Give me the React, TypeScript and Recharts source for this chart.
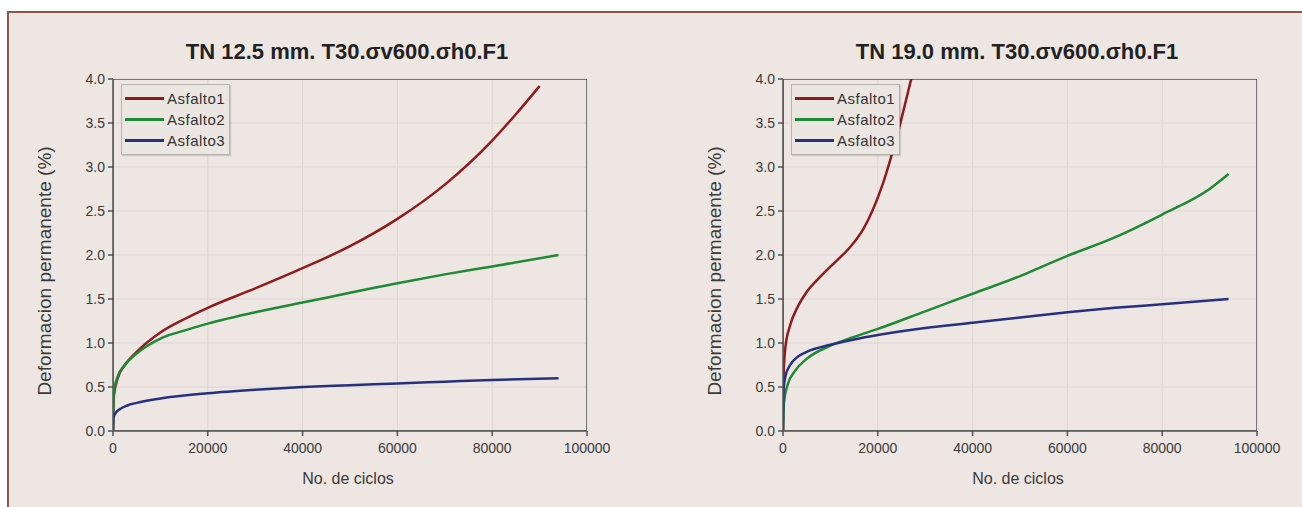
import React from 'react';
import { LineChart, Line, XAxis, YAxis, CartesianGrid, ReferenceArea, Legend } from 'recharts';

// TN 12.5 mm
const CICLOS_12_A1 = [0, 200, 1000, 2500, 5000, 10000, 15000, 20000, 30000, 40000, 50000, 60000, 70000, 80000, 85000, 90000];
const DEF_12_A1 = [0, 0.4, 0.6, 0.75, 0.9, 1.12, 1.27, 1.4, 1.62, 1.85, 2.1, 2.41, 2.8, 3.3, 3.6, 3.92];
const CICLOS_12_A2 = [0, 200, 1000, 2500, 5000, 10000, 15000, 20000, 30000, 40000, 50000, 60000, 70000, 80000, 94000];
const DEF_12_A2 = [0, 0.45, 0.62, 0.75, 0.88, 1.05, 1.14, 1.22, 1.35, 1.46, 1.57, 1.68, 1.78, 1.87, 2.0];
const CICLOS_12_A3 = [0, 100, 500, 1500, 3000, 5000, 10000, 20000, 30000, 40000, 50000, 60000, 70000, 80000, 94000];
const DEF_12_A3 = [0, 0.15, 0.2, 0.25, 0.29, 0.32, 0.37, 0.43, 0.47, 0.5, 0.52, 0.54, 0.56, 0.58, 0.6];

// TN 19.0 mm
const CICLOS_19_A1 = [0, 100, 500, 1500, 3000, 5000, 8000, 11000, 14000, 17000, 19000, 21000, 23000, 25000, 26500, 27500];
const DEF_19_A1 = [0, 0.6, 0.95, 1.2, 1.4, 1.58, 1.76, 1.92, 2.08, 2.3, 2.52, 2.8, 3.15, 3.55, 3.88, 4.1];
const CICLOS_19_A2 = [0, 200, 1000, 2500, 5000, 10000, 15000, 20000, 30000, 40000, 50000, 56000, 60000, 70000, 80000, 90000, 94000];
const DEF_19_A2 = [0, 0.32, 0.53, 0.68, 0.82, 0.97, 1.07, 1.16, 1.36, 1.56, 1.76, 1.9, 1.99, 2.2, 2.46, 2.75, 2.92];
const CICLOS_19_A3 = [0, 100, 500, 1500, 3000, 5000, 10000, 15000, 20000, 30000, 40000, 50000, 60000, 70000, 80000, 94000];
const DEF_19_A3 = [0, 0.45, 0.62, 0.75, 0.84, 0.9, 0.98, 1.04, 1.09, 1.17, 1.23, 1.29, 1.35, 1.4, 1.44, 1.5];

const SERIES_NAMES = ['Asfalto1', 'Asfalto2', 'Asfalto3'];
const SERIES_COLORS = ['#8e1c1f', '#1f8a34', '#27307f'];
const X_TICKS = [0, 20000, 40000, 60000, 80000, 100000];
const Y_TICKS = [0, 0.5, 1, 1.5, 2, 2.5, 3, 3.5, 4];

const FONT = '"Liberation Sans", Arial, sans-serif';
const TEXT_COLOR = '#3a3a3a';
const PANEL_BG = '#ede6e3';

const toPoints = (ciclos: number[], def: number[]) => ciclos.map((c, i) => ({ ciclos: c, def: def[i] }));

const LegendBox = () => (
    <div style={{
        border: '1px solid #b9b3b0', background: '#ece6e3', padding: '3px 4px 3px 3px',
        fontFamily: FONT, fontSize: 15, letterSpacing: 0.5, color: '#333', boxShadow: '1px 1px 1px rgba(0,0,0,0.15)'
    }}>
        {SERIES_NAMES.map((name, i) => (
            <div key={name} style={{ display: 'flex', alignItems: 'center', height: 21 }}>
                <span style={{ display: 'inline-block', width: 39, height: 3, background: SERIES_COLORS[i], marginRight: 3 }} />
                <span>{name}</span>
            </div>
        ))}
    </div>
);

interface PanelProps {
    title: string;
    left: number;
    series: { ciclos: number; def: number }[][];
}

const Panel: React.FC<PanelProps> = ({ title, left, series }) => (
    <div style={{ position: 'absolute', left, top: 0, width: 632, height: 507 }}>
        <div style={{
            position: 'absolute', left: 347, top: 40, transform: 'translateX(-50%)', whiteSpace: 'nowrap',
            fontFamily: FONT, fontWeight: 'bold', fontSize: 22, lineHeight: '24px', color: '#222'
        }}>{title}</div>
        <div style={{
            position: 'absolute', left: 45, top: 271, transform: 'translate(-50%, -50%) rotate(-90deg)',
            whiteSpace: 'nowrap', fontFamily: FONT, fontSize: 19, color: TEXT_COLOR
        }}>Deformacion permanente (%)</div>
        <div style={{
            position: 'absolute', left: 348, top: 469, transform: 'translateX(-50%)', whiteSpace: 'nowrap',
            fontFamily: FONT, fontSize: 16, lineHeight: '20px', color: TEXT_COLOR
        }}>No. de ciclos</div>
        <LineChart width={632} height={507} margin={{ top: 79, right: 45, left: 73, bottom: 46 }}>
            <CartesianGrid stroke="#dcd5d2" strokeWidth={1} />
            <XAxis
                dataKey="ciclos" type="number" domain={[0, 100000]} ticks={X_TICKS} height={30}
                allowDataOverflow tickSize={5} tickMargin={7}
                stroke="#555" strokeWidth={1.5}
                tick={{ fill: TEXT_COLOR, fontSize: 14, fontFamily: FONT }}
            />
            <YAxis
                dataKey="def" type="number" domain={[0, 4]} ticks={Y_TICKS} width={40}
                allowDataOverflow tickSize={5} tickMargin={3}
                stroke="#555" strokeWidth={1.5}
                tickFormatter={(v: number) => v.toFixed(1)}
                tick={{ fill: TEXT_COLOR, fontSize: 14, fontFamily: FONT }}
            />
            <ReferenceArea x1={0} x2={100000} y1={0} y2={4} fill="none" stroke="#555" strokeWidth={1.5} ifOverflow="hidden" />
            {series.map((pts, i) => (
                <Line
                    key={SERIES_NAMES[i]} data={pts} dataKey="def" name={SERIES_NAMES[i]}
                    type="monotone" stroke={SERIES_COLORS[i]} strokeWidth={2.5}
                    dot={false} activeDot={false} isAnimationActive={false}
                />
            ))}
            <Legend
                layout="vertical" align="center" verticalAlign="middle"
                wrapperStyle={{ left: 121, top: 84, width: 'auto' }}
                content={() => <LegendBox />}
            />
        </LineChart>
    </div>
);

export default function App() {
    return (
        <div style={{ position: 'fixed', left: 0, top: 0, right: 0, bottom: 0, background: '#fff', overflow: 'hidden' }}>
            <div style={{
                position: 'absolute', left: 7, top: 11, right: -10, bottom: -10,
                borderTop: '2px solid #8a5849', borderLeft: '2px solid #8a5849', background: PANEL_BG
            }} />
            <Panel
                title="TN 12.5 mm. T30.σv600.σh0.F1" left={0}
                series={[toPoints(CICLOS_12_A1, DEF_12_A1), toPoints(CICLOS_12_A2, DEF_12_A2), toPoints(CICLOS_12_A3, DEF_12_A3)]}
            />
            <Panel
                title="TN 19.0 mm. T30.σv600.σh0.F1" left={670}
                series={[toPoints(CICLOS_19_A1, DEF_19_A1), toPoints(CICLOS_19_A2, DEF_19_A2), toPoints(CICLOS_19_A3, DEF_19_A3)]}
            />
        </div>
    );
}
